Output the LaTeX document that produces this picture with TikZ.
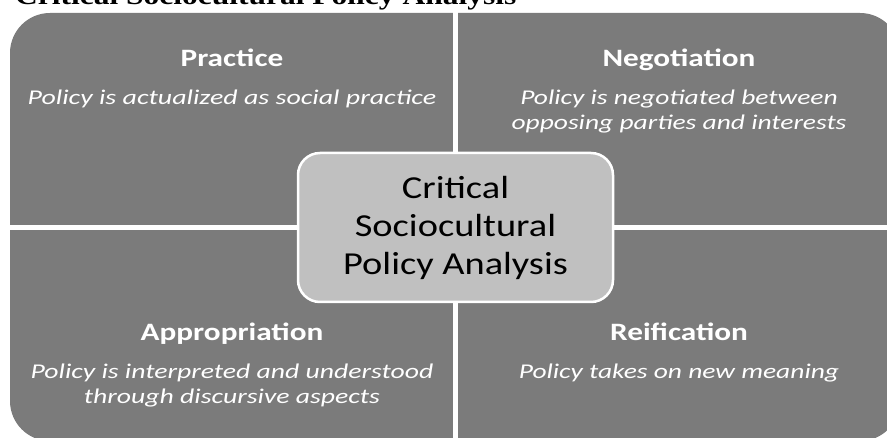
\documentclass[tikz,border=0pt]{standalone}
\usepackage{fontspec}
\setmainfont{Carlito}
\newfontfamily\titlefont{Liberation Serif}
\usepackage{graphicx}
\definecolor{quadgray}{RGB}{123,123,123}
\definecolor{centgray}{RGB}{192,192,192}
\newcommand{\hx}[2]{\scalebox{#1}[1]{#2}}
\begin{document}
\begin{tikzpicture}[x=1pt,y=-1pt,
  head/.style={text=white, font=\fontsize{25}{30}\selectfont\bfseries, inner sep=0pt, anchor=base},
  desc/.style={text=white, font=\fontsize{21}{25}\selectfont\itshape, inner sep=0pt, anchor=base},
  ctext/.style={text=black, font=\fontsize{32}{38}\selectfont, inner sep=0pt, anchor=base},
  divider/.style={white, line width=4.5pt},
]
\useasboundingbox (0,0) rectangle (887,438);
\clip (0,0) rectangle (887,438);
\fill[quadgray, rounded corners=40pt] (10,13) rectangle (900,441);
\draw[divider] (455.5,5) -- (455.5,445);
\draw[divider] (5,227.5) -- (905,227.5);
\node[draw=white, line width=2.5pt, fill=centgray, rounded corners=22pt,
      minimum width=315pt, minimum height=149pt, inner sep=0pt] (core) at (455.5,227.5) {};
\node[ctext] (c1) at (455.5,199) {\hx{1.2}{Critical}};
\node[ctext] (c2) at (455.5,237) {\hx{1.2}{Sociocultural}};
\node[ctext] (c3) at (455.5,275) {\hx{1.2}{Policy Analysis}};
\node[head] (practice) at (232,67) {\hx{1.25}{Practice}};
\node[desc] (practiceD) at (232,105) {\hx{1.33}{Policy is actualized as social practice}};
\node[head] (negotiation) at (679,67) {\hx{1.25}{Negotiation}};
\node[desc] (negD1) at (679,105) {\hx{1.31}{Policy is negotiated between}};
\node[desc] (negD2) at (679,130) {\hx{1.31}{opposing parties and interests}};
\node[head] (approp) at (232,341) {\hx{1.25}{Appropriation}};
\node[desc] (appD1) at (232,379) {\hx{1.32}{Policy is interpreted and understood}};
\node[desc] (appD2) at (232,404) {\hx{1.32}{through discursive aspects}};
\node[head] (reif) at (679,341) {\hx{1.25}{Reification}};
\node[desc] (reifD) at (679,379) {\hx{1.31}{Policy takes on new meaning}};
\node[anchor=base west, inner sep=0pt] (title) at (15,5)
  {\resizebox{501pt}{\height}{\titlefont\bfseries\fontsize{26}{30}\selectfont Critical Sociocultural Policy Analysis}};
\end{tikzpicture}
\end{document}
